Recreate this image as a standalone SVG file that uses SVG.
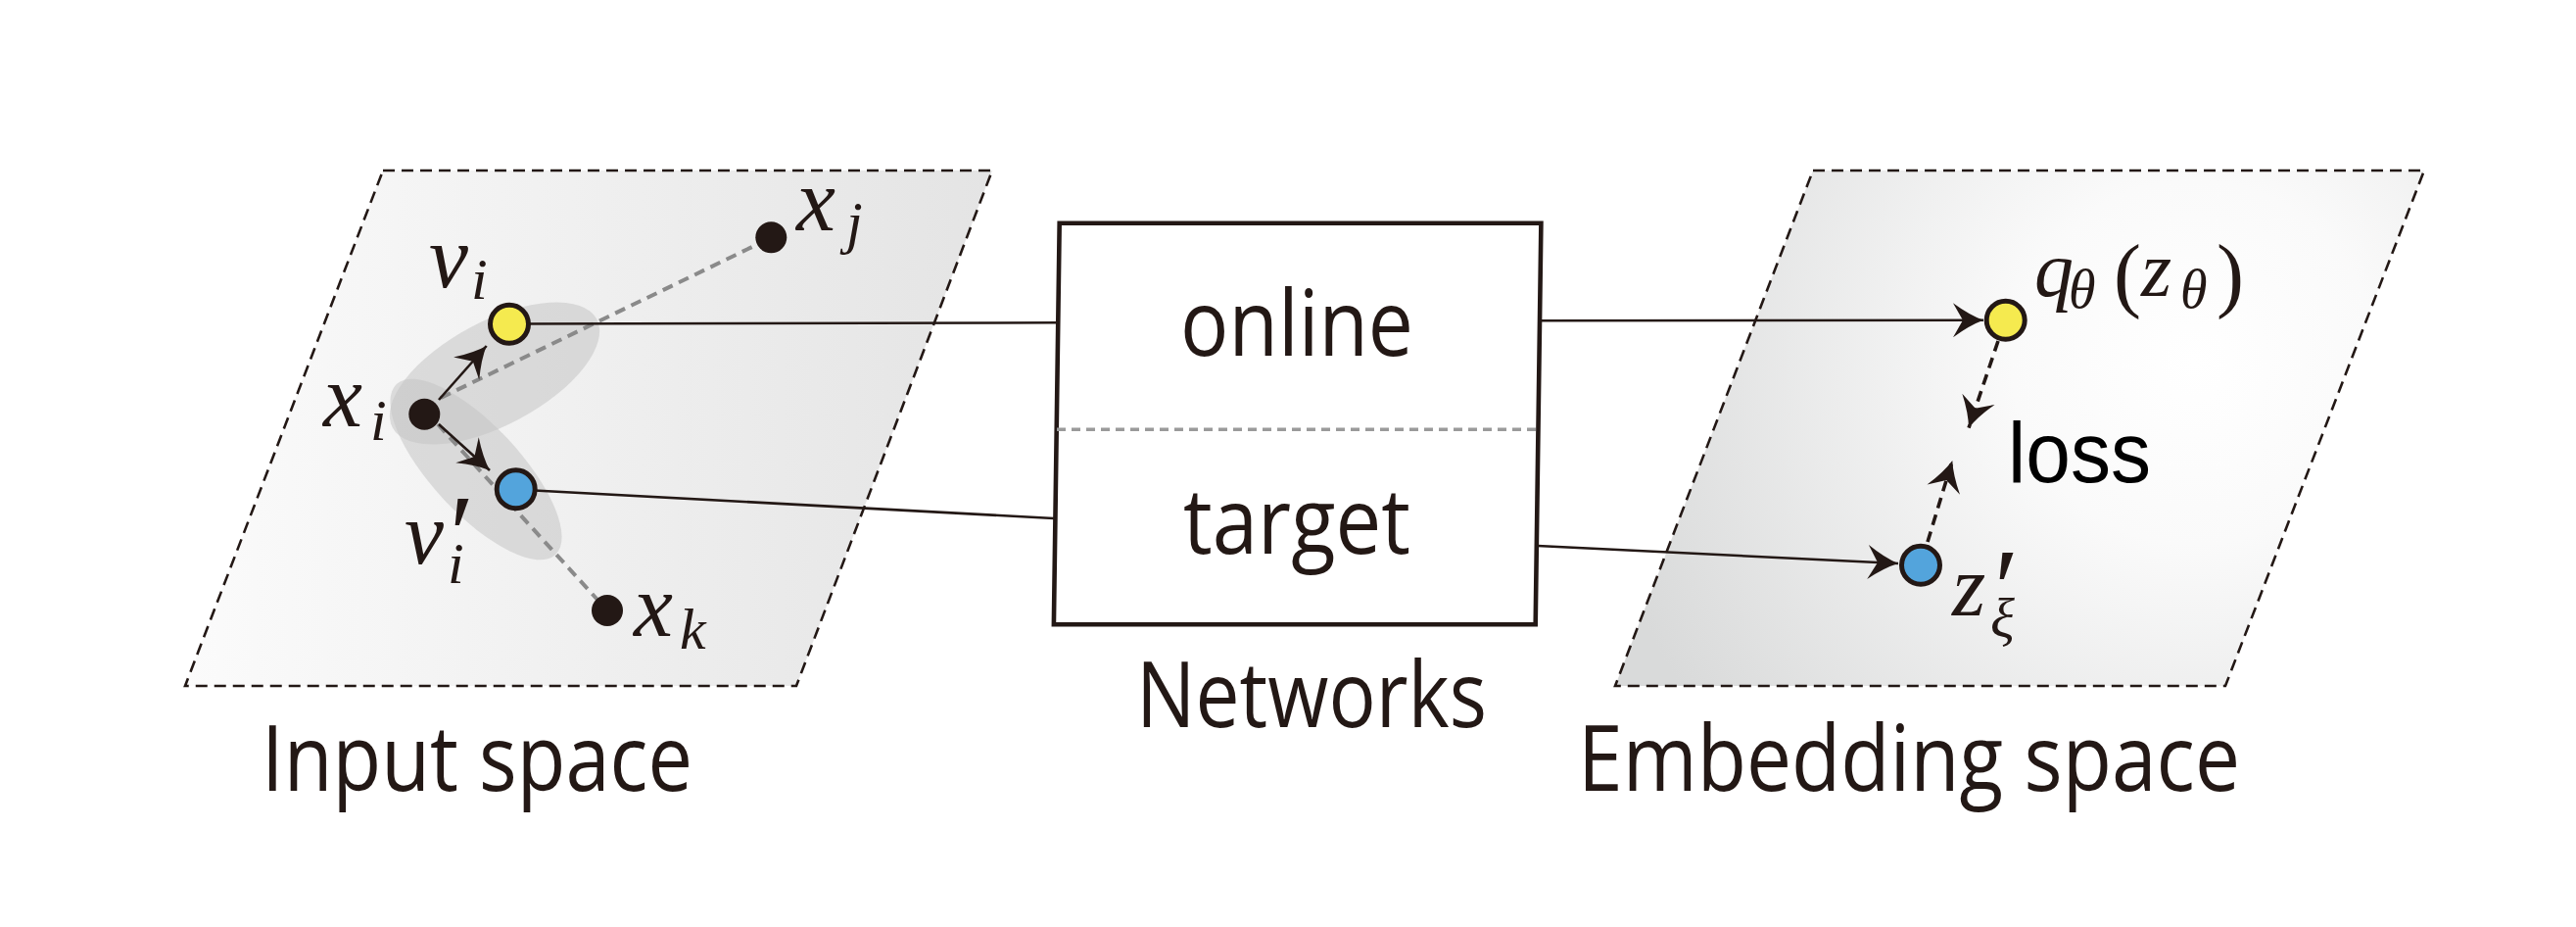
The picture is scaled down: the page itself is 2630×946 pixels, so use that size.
<svg xmlns="http://www.w3.org/2000/svg" width="2630" height="946" viewBox="0 0 2630 946">
<style>
.panel{stroke:#231815;stroke-width:2.6;stroke-dasharray:12 7}
.sans{font-family:"Open Sans","Noto Sans","Liberation Sans",sans-serif;font-size:93px;fill:#231815;text-anchor:middle}
.math{font-family:"Liberation Serif","Times New Roman",serif;font-style:italic;fill:#231815}
.up{font-family:"Liberation Serif","Times New Roman",serif;font-style:normal}
.conn{stroke:#231815;stroke-width:2.6;fill:none}
.gdash{stroke:#8a8a8a;stroke-width:4;stroke-dasharray:11 7;fill:none}
.ldash{stroke:#231815;stroke-width:3.6;stroke-dasharray:11 7;fill:none}
.dot{fill:#231815}
.yc{fill:#f5ea4f;stroke:#231815;stroke-width:5}
.bc{fill:#53a4dc;stroke:#231815;stroke-width:5}
.ell{fill:#c4c4c4;fill-opacity:0.55}
</style>
<defs>
<linearGradient id="gL" gradientUnits="userSpaceOnUse" x1="189" y1="0" x2="1013" y2="0">
<stop offset="0" stop-color="#fbfbfb"/>
<stop offset="1" stop-color="#e4e4e4"/>
</linearGradient>
<radialGradient id="gR" gradientUnits="userSpaceOnUse" cx="2240" cy="370" r="620">
<stop offset="0" stop-color="#ffffff"/>
<stop offset="0.3" stop-color="#fafafa"/>
<stop offset="1" stop-color="#d9dada"/>
</radialGradient>
<marker id="ah" viewBox="-34 -20 36 40" refX="0" refY="0" markerWidth="36" markerHeight="40" markerUnits="userSpaceOnUse" orient="auto">
<path d="M0,0 Q-14,-5 -31,-17.5 L-21,0 L-31,17.5 Q-14,5 0,0 Z" fill="#231815"/>
</marker>
</defs>
<rect width="2630" height="946" fill="#ffffff"/>

<g id="input-space">
<polygon points="391,174 1013,174 813,700 189,700" fill="url(#gL)" class="panel"/>
<ellipse class="ell" cx="505" cy="381" rx="118" ry="53" transform="rotate(-28 505 381)"/>
<ellipse class="ell" cx="486" cy="479" rx="119" ry="45" transform="rotate(47 486 479)"/>
<text class="sans" x="487" y="806.7" textLength="440" lengthAdjust="spacingAndGlyphs">Input space</text>
</g>

<g id="embedding-space">
<polygon points="1851,174 2475,174 2272,700 1649,700" fill="url(#gR)" class="panel"/>
<text class="sans" x="1949" y="806.7" textLength="676" lengthAdjust="spacingAndGlyphs">Embedding space</text>
</g>

<g id="networks">
<polygon points="1081.7,227.8 1573.4,227.8 1567.7,637.3 1075.9,637.3" fill="#ffffff" stroke="#231815" stroke-width="4.6"/>
<line x1="1079" y1="438.3" x2="1570" y2="438.3" stroke="#9a9a9a" stroke-width="3.5" stroke-dasharray="9 6"/>
<text class="sans" x="1324" y="362.5" textLength="238" lengthAdjust="spacingAndGlyphs">online</text>
<text class="sans" x="1324" y="564.6" textLength="232" lengthAdjust="spacingAndGlyphs">target</text>
<text class="sans" x="1339" y="741.8" textLength="358" lengthAdjust="spacingAndGlyphs">Networks</text>
</g>

<g id="connectors">
<line class="gdash" x1="450" y1="406" x2="772" y2="250"/>
<line class="gdash" x1="447" y1="433" x2="610" y2="612"/>
<line class="conn" x1="448" y1="408" x2="496.7" y2="353" stroke-width="3.4" marker-end="url(#ah)"/>
<line class="conn" x1="448" y1="433" x2="500" y2="480" stroke-width="3.4" marker-end="url(#ah)"/>
<line class="conn" x1="520" y1="330.5" x2="1081.5" y2="329.3"/>
<line class="conn" x1="527" y1="499.5" x2="1076" y2="529"/>
<line class="conn" x1="1573.4" y1="327.3" x2="2025" y2="326.7" marker-end="url(#ah)"/>
<line class="conn" x1="1569.8" y1="557" x2="1938" y2="575" marker-end="url(#ah)"/>
<line class="ldash" x1="2040" y1="348" x2="2010" y2="436.7" marker-end="url(#ah)"/>
<line class="ldash" x1="1968" y1="553" x2="1993.3" y2="470" marker-end="url(#ah)"/>
</g>

<g id="node-xj">
<circle class="dot" cx="787.3" cy="242.3" r="16"/>
<text class="math" x="813" y="235" font-size="90">x<tspan x="864" y="247" font-size="60">j</tspan></text>
</g>
<g id="node-xi">
<circle class="dot" cx="433.3" cy="422.7" r="16"/>
<text class="math" x="330" y="435" font-size="90">x<tspan x="378" y="449" font-size="60">i</tspan></text>
</g>
<g id="node-xk">
<circle class="dot" cx="620" cy="623" r="16"/>
<text class="math" x="647" y="649" font-size="90">x<tspan x="694" y="662" font-size="60">k</tspan></text>
</g>
<g id="node-vi">
<circle class="yc" cx="520" cy="330.7" r="19.5"/>
<text class="math" x="438" y="293" font-size="90">v<tspan x="481" y="305" font-size="60">i</tspan></text>
</g>
<g id="node-vi-prime">
<circle class="bc" cx="526.7" cy="499.3" r="19.5"/>
<text class="math" x="413" y="575" font-size="90">v<tspan class="up" x="459" y="584" font-size="115">′</tspan><tspan x="457" y="595" font-size="60">i</tspan></text>
</g>
<g id="node-q">
<circle class="yc" cx="2047.7" cy="326.7" r="19.5"/>
<text class="math" x="2077" y="302" font-size="80">q<tspan x="2112" y="314" font-size="56">θ</tspan><tspan class="up" x="2158" y="308" font-size="84">(</tspan><tspan x="2186" y="302" font-size="80">z</tspan><tspan x="2226" y="314" font-size="56">θ</tspan><tspan class="up" x="2263" y="308" font-size="84">)</tspan></text>
</g>
<g id="node-z-prime">
<circle class="bc" cx="1961" cy="576.7" r="19.5"/>
<text class="math" x="1993" y="628" font-size="88">z<tspan class="up" x="2036" y="639" font-size="115">′</tspan><tspan x="2032" y="650" font-size="58">ξ</tspan></text>
</g>
<g id="loss">
<text x="2123" y="491.7" font-family="'Liberation Sans',Arial,sans-serif" font-size="87" fill="#000000" text-anchor="middle" textLength="146" lengthAdjust="spacingAndGlyphs">loss</text>
</g>
</svg>
